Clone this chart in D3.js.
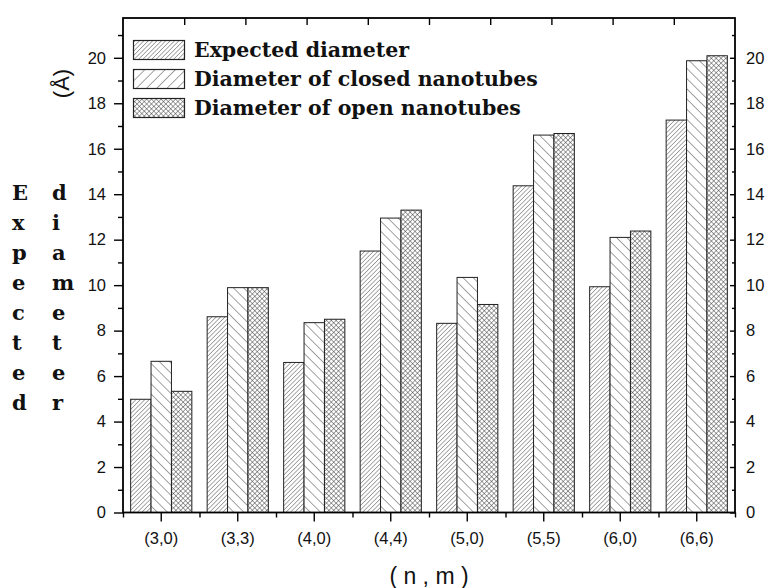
<!DOCTYPE html>
<html>
<head>
<meta charset="utf-8">
<script src="https://cdn.jsdelivr.net/npm/d3@7/dist/d3.min.js"></script>
<style>
  html, body { margin: 0; padding: 0; background: #fff; }
  svg { display: block; }
</style>
</head>
<body>
<svg id="chart" width="769" height="588"></svg>
<script>
// Nanotube chiralities (n, m)
const categories = ["(3,0)", "(3,3)", "(4,0)", "(4,4)", "(5,0)", "(5,5)", "(6,0)", "(6,6)"];
// Diameters in Å
const expectedDiameter = [4.98, 8.61, 6.60, 11.50, 8.32, 14.37, 9.93, 17.26];
const closedDiameter   = [6.65, 9.89, 8.35, 12.95, 10.34, 16.60, 12.10, 19.87];
const openDiameter     = [5.33, 9.89, 8.50, 13.30, 9.15, 16.67, 12.38, 20.09];
const seriesNames = ["Expected diameter", "Diameter of closed nanotubes", "Diameter of open nanotubes"];
const majorYTicks = [0, 2, 4, 6, 8, 10, 12, 14, 16, 18, 20];
const minorYTicks = [1, 3, 5, 7, 9, 11, 13, 15, 17, 19, 21];
const leftTitleColumns = ["Expected", "diameter"];

const svg = d3.select("#chart");
const L = 123, R = 735, T = 18, B = 512.5;

// Hatch fills
const defs = svg.append("defs");
function hatch(id, size, angle, color, width, cross) {
  const p = defs.append("pattern")
    .attr("id", id)
    .attr("patternUnits", "userSpaceOnUse")
    .attr("width", size).attr("height", size)
    .attr("patternTransform", `rotate(${angle})`);
  p.append("rect").attr("width", size).attr("height", size).attr("fill", "#fff");
  p.append("line").attr("x1", 0).attr("y1", 0).attr("x2", 0).attr("y2", size)
    .attr("stroke", color).attr("stroke-width", width);
  if (cross) {
    p.append("line").attr("x1", 0).attr("y1", 0).attr("x2", size).attr("y2", 0)
      .attr("stroke", color).attr("stroke-width", width);
  }
}
hatch("fillExpected", 3.1, 45, "#444", 0.9, false);
hatch("fillClosed", 7.2, -45, "#333", 0.9, false);
hatch("fillClosedKey", 7.2, 45, "#333", 0.9, false);
hatch("fillOpen", 3.4, 45, "#333", 0.9, true);

const fills = ["url(#fillExpected)", "url(#fillClosed)", "url(#fillOpen)"];
const keyFills = ["url(#fillExpected)", "url(#fillClosedKey)", "url(#fillOpen)"];

// Scales
const x = d3.scaleBand().domain(categories).range([L, R]).paddingInner(0).paddingOuter(0);
const bw = x.bandwidth();
const xs = d3.scaleBand().domain(d3.range(3)).range([bw * 0.1, bw * 0.9]).padding(0);
const y = d3.scaleLinear().domain([0, 21.75]).range([B, T]);

const rows = categories.map((c, i) => ({
  cat: c,
  vals: [expectedDiameter[i], closedDiameter[i], openDiameter[i]]
}));

// Bars
const groups = svg.append("g").selectAll("g").data(rows).join("g")
  .attr("transform", d => `translate(${x(d.cat)},0)`);
groups.selectAll("rect").data(d => d.vals.map((v, k) => ({ v, k }))).join("rect")
  .attr("x", d => xs(d.k))
  .attr("width", xs.bandwidth())
  .attr("y", d => y(d.v))
  .attr("height", d => y(0) - y(d.v))
  .attr("fill", d => fills[d.k])
  .attr("stroke", "#222")
  .attr("stroke-width", 1);

const tickFont = "'Liberation Sans', Arial, sans-serif";
function styleAxis(g) {
  g.select(".domain").remove();
  g.selectAll(".tick line").attr("stroke", "#000").attr("stroke-width", 1.4);
  g.selectAll(".tick text").attr("font-family", tickFont).attr("font-size", 16.5).attr("fill", "#111");
}

// Left axis (outward ticks)
svg.append("g").attr("transform", `translate(${L},0)`)
  .call(d3.axisLeft(y).tickValues(majorYTicks).tickSize(9).tickPadding(8).tickFormat(d3.format("d")))
  .call(styleAxis);
svg.append("g").attr("transform", `translate(${L},0)`)
  .call(d3.axisLeft(y).tickValues(minorYTicks).tickSize(5).tickFormat(""))
  .call(styleAxis);

// Right axis (inward ticks, labels outside)
svg.append("g").attr("transform", `translate(${R},0)`)
  .call(d3.axisRight(y).tickValues(majorYTicks).tickSize(-5).tickPadding(11).tickFormat(d3.format("d")))
  .call(styleAxis);
svg.append("g").attr("transform", `translate(${R},0)`)
  .call(d3.axisRight(y).tickValues(minorYTicks).tickSize(-3).tickFormat(""))
  .call(styleAxis);

// Bottom axis: labelled ticks at band centres, short ticks at band edges
svg.append("g").attr("transform", `translate(0,${B})`)
  .call(d3.axisBottom(x).tickSize(9).tickPadding(11))
  .call(styleAxis);
const edges = d3.scaleLinear().domain([0, categories.length]).range([L, R]);
svg.append("g").attr("transform", `translate(0,${B})`)
  .call(d3.axisBottom(edges).tickValues(d3.range(categories.length + 1)).tickSize(5).tickFormat(""))
  .call(styleAxis);

// Top axis: inward ticks
const topScale = d3.scaleLinear().domain([0, 10]).range([L, R]);
svg.append("g").attr("transform", `translate(0,${T})`)
  .call(d3.axisTop(topScale).tickValues(d3.range(1, 10)).tickSize(-7).tickFormat(""))
  .call(styleAxis);

// Frame
svg.append("rect")
  .attr("x", L).attr("y", T).attr("width", R - L).attr("height", B - T)
  .attr("fill", "none").attr("stroke", "#000").attr("stroke-width", 1.8);

// Legend
const legend = svg.append("g");
seriesNames.forEach((name, k) => {
  const top = 40.5 + k * 29;
  legend.append("rect")
    .attr("x", 133.5).attr("y", top).attr("width", 51).attr("height", 19)
    .attr("fill", keyFills[k]).attr("stroke", "#222").attr("stroke-width", 1.2);
  legend.append("text")
    .attr("x", 194).attr("y", top + 16)
    .attr("font-family", "'DejaVu Serif', serif").attr("font-weight", "bold")
    .attr("font-size", 20.5).attr("fill", "#111")
    .text(name);
});

// Axis titles
svg.append("text")
  .attr("x", 429).attr("y", 584)
  .attr("text-anchor", "middle")
  .attr("font-family", tickFont).attr("font-size", 23).attr("fill", "#111")
  .text("( n , m )");

svg.append("text")
  .attr("transform", "translate(69,83.5) rotate(-90)")
  .attr("text-anchor", "middle")
  .attr("font-family", tickFont).attr("font-size", 22).attr("fill", "#111")
  .text("(Å)");

const colX = [12, 52];
leftTitleColumns.forEach((word, c) => {
  const t = svg.append("text")
    .attr("font-family", "'DejaVu Serif', serif").attr("font-weight", "bold")
    .attr("font-size", 21).attr("fill", "#111");
  word.split("").forEach((ch, i) => {
    t.append("tspan").attr("x", colX[c]).attr("y", 199.5 + i * 30.1).text(ch);
  });
});
</script>
</body>
</html>
